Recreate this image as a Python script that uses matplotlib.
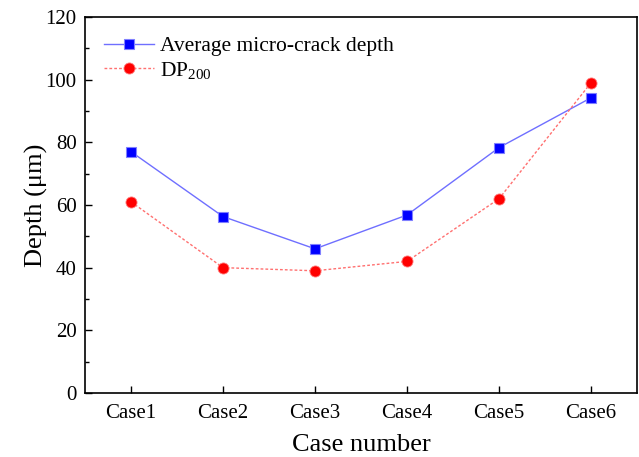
import numpy as np
import matplotlib.pyplot as plt
from matplotlib.ticker import MultipleLocator

cases = ["Case1", "Case2", "Case3", "Case4", "Case5", "Case6"]
avg_depth = [77.0, 56.3, 46.0, 56.8, 78.3, 94.2]
dp200 = [61.0, 40.0, 39.0, 42.0, 62.0, 99.0]

plt.rcParams['font.family'] = ['Liberation Serif', 'DejaVu Serif']
plt.rcParams['mathtext.fontset'] = 'stix'

fig = plt.figure(figsize=(6.39, 4.57), dpi=100)
ax = fig.add_axes([0.133, 0.140, 0.864, 0.823])

x = np.arange(1, len(cases) + 1)
ax.plot(x, avg_depth, color='#6f6fff', lw=1.0, marker='s', ms=7,
        mfc='blue', mec='#8080ff', mew=0.8, label='Average micro-crack depth')
ax.plot(x, dp200, color='#ff7070', lw=1.0, ls=(0, (2, 1.5)), marker='o', ms=8,
        mfc='red', mec='#ff8080', mew=0.6, label='DP$_{\\mathregular{200}}$')

ax.set_xlim(0.5, 6.5)
ax.set_ylim(0, 120)
ax.set_xticks(x)
ax.set_xticklabels(cases)
ax.yaxis.set_major_locator(MultipleLocator(20))
ax.yaxis.set_minor_locator(MultipleLocator(10))
ax.tick_params(direction='in', labelsize=15, length=5, width=1)
ax.tick_params(axis='x', pad=8)
ax.tick_params(axis='y', pad=6)
ax.tick_params(which='minor', direction='in', length=3, width=1)
for s in ax.spines.values():
    s.set_linewidth(1.2)

ax.set_xlabel("Case number", fontsize=19, labelpad=8)
ax.set_ylabel("Depth (μm)", fontsize=19, labelpad=-2)

leg = ax.legend(loc='upper left', frameon=False, fontsize=15.5,
                handlelength=2.3, handletextpad=0.3, borderaxespad=0.5,
                labelspacing=0.15)

fig.savefig("out.png", dpi=100)
